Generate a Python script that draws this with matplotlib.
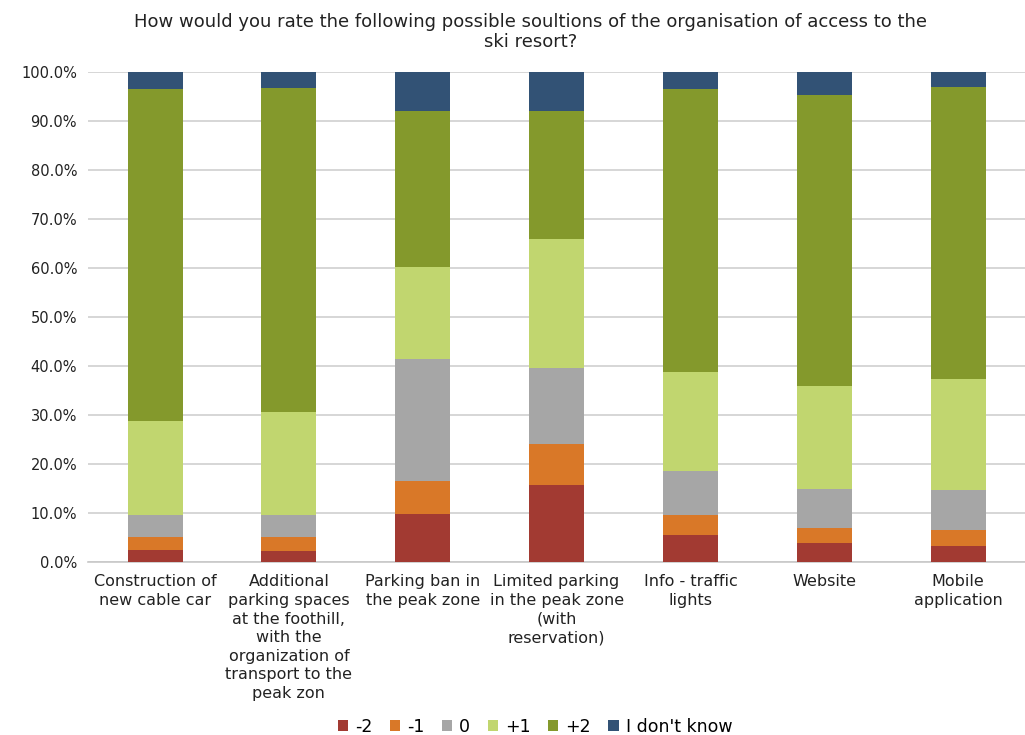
# stacked 100% bar chart - ratings of ski resort access solutions
import numpy as np
import matplotlib.pyplot as plt

categories = ["Construction of\nnew cable car",
              "Additional\nparking spaces\nat the foothill,\nwith the\norganization of\ntransport to the\npeak zon",
              "Parking ban in\nthe peak zone",
              "Limited parking\nin the peak zone\n(with\nreservation)",
              "Info - traffic\nlights",
              "Website",
              "Mobile\napplication"]

series = ["-2", "-1", "0", "+1", "+2", "I don't know"]

minus2 = [2.5, 2.2, 9.7, 15.7, 5.5, 3.8, 3.3]
minus1 = [2.5, 2.9, 6.9, 8.4, 4.1, 3.1, 3.2]
zero = [4.6, 4.5, 24.8, 15.4, 9.0, 7.9, 8.1]
plus1 = [19.2, 21.1, 18.8, 26.4, 20.2, 21.1, 22.7]
plus2 = [67.7, 66.0, 31.9, 26.1, 57.7, 59.5, 59.7]
dont_know = [3.5, 3.3, 7.9, 8.0, 3.5, 4.6, 3.0]

colors = ["#A23A32", "#D97828", "#A6A6A6", "#C1D66F", "#84992C", "#325275"]

plt.rcParams['font.family'] = ['DejaVu Sans']

fig = plt.figure(figsize=(10.25, 7.35), dpi=100)
ax = fig.add_axes([0.086, 0.2354, 0.914, 0.6666])

x = np.arange(len(categories))
bottom = np.zeros(len(categories))
for name, vals, col in zip(series,
                           [minus2, minus1, zero, plus1, plus2, dont_know],
                           colors):
    vals = np.array(vals) / 100
    ax.bar(x, vals, 0.41, bottom=bottom, color=col, label=name, zorder=3)
    bottom += vals

ax.set_xlim(-0.5, 6.5)
ax.set_ylim(0, 1)
ax.set_yticks(np.arange(0, 1.01, 0.1))
ax.set_yticklabels([f"{v * 100:.1f}%" for v in np.arange(0, 1.01, 0.1)],
                   fontsize=10.5, color='#222222')
ax.set_xticks(x)
ax.set_xticklabels(categories, fontsize=11.5, color='#222222',
                   linespacing=1.3)
ax.tick_params(length=0, pad=8)
ax.tick_params(axis='x', pad=9)
ax.grid(axis='y', color='#D0D0D0', lw=1.2, zorder=0)
for s in ['left', 'right', 'top']:
    ax.spines[s].set_visible(False)
ax.spines['bottom'].set_color('#C8C8C8')
ax.spines['bottom'].set_linewidth(1.2)

fig.text(0.518, 0.982,
         "How would you rate the following possible soultions of the organisation of access to the\nski resort?",
         ha='center', va='top', fontsize=13, color='#222222', linespacing=1.15)

fig.legend(loc='center', bbox_to_anchor=(0.522, 0.011), ncol=6, frameon=False,
           fontsize=12.5, handlelength=0.6, handleheight=0.6, handletextpad=0.4,
           columnspacing=1.0)

fig.savefig("out.png", dpi=100)
